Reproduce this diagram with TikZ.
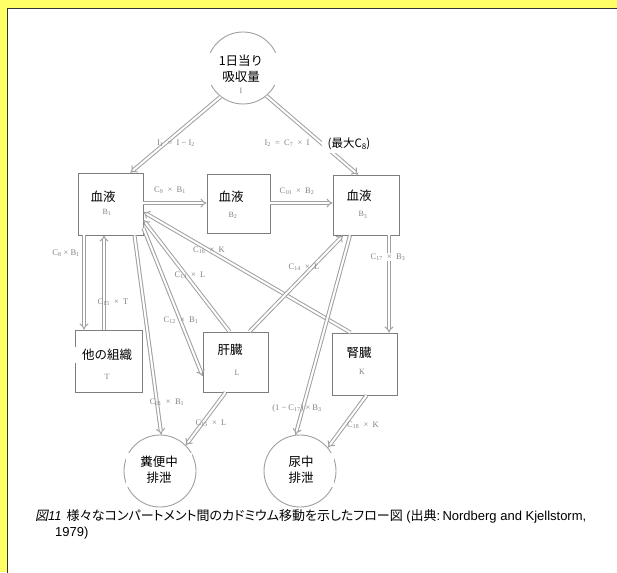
\documentclass[tikz,border=0pt]{standalone}
\usepackage{fontspec}
\setmainfont{Liberation Sans}
\newfontfamily\jpfont{Noto Sans CJK JP}
\newfontfamily\jpcap[RawFeature=+palt]{Noto Sans CJK JP}
\newfontfamily\jpslant[FakeSlant=0.2,RawFeature=+palt]{Noto Sans CJK JP}
\newfontfamily\labfont{Liberation Serif}
\usetikzlibrary{arrows.meta}
\definecolor{bgyellow}{RGB}{255,255,102}
\definecolor{linegray}{RGB}{160,160,160}
\definecolor{boxgray}{RGB}{125,125,125}
\definecolor{labgray}{RGB}{130,130,130}
\begin{document}
\begin{tikzpicture}[x=1pt,y=-1pt,
  box/.style={draw=boxgray, line width=0.8pt, inner sep=0pt},
  circ/.style={draw=linegray, line width=0.9pt, circle, minimum size=72pt, inner sep=0pt},
  jp/.style={font=\jpfont\fontsize{12.5}{16}\selectfont, align=center, inner sep=1pt},
  jpbg/.style={jp, fill=white},
  sym/.style={text=labgray, font=\labfont\fontsize{8}{9}\selectfont, inner sep=1pt},
  lab/.style={text=labgray, font=\labfont\fontsize{8.5}{10}\selectfont, inner sep=1pt},
  flow/.style={draw=linegray, line width=1pt, double=white, double distance=2pt, -{Implies}},
]
\useasboundingbox (0,0) rectangle (617,572);
\fill[bgyellow] (0,0) rectangle (617,572);
\fill[white] (7,8) rectangle (640,600);
\draw[black!80, line width=1.2pt] (7.6,600) -- (7.6,8.6) -- (640,8.6);

% boxes
\node[box, minimum width=65pt, minimum height=62pt] (b1) at (110.5,204) {};
\node[box, minimum width=63pt, minimum height=59pt] (b2) at (238.5,203.5) {};
\node[box, minimum width=66pt, minimum height=60pt] (b3) at (366,205) {};
\node[box, minimum width=67pt, minimum height=62pt] (t) at (108.5,361) {};
\node[box, minimum width=65pt, minimum height=60pt] (l) at (235.5,362) {};
\node[box, minimum width=65pt, minimum height=62pt] (k) at (364.5,364) {};
% circles
\node[circ] (in) at (243,68) {};
\node[circ] (fe) at (160,471) {};
\node[circ] (ur) at (300,471) {};

% connectors
\draw[flow] (in.232) -- ([xshift=20pt]b1.north);
\draw[flow] (in.-50) -- ([xshift=-8pt]b3.north);
\draw[flow] ([yshift=1pt]b1.east) -- ([yshift=1pt]b1.east -| b2.west);
\draw[flow] ([yshift=0.5pt]b2.east) -- ([yshift=0.5pt]b2.east -| b3.west);
\draw[flow] ([xshift=-14pt]k.north) -- ([yshift=-8pt]b1.east);
\draw[flow] ([xshift=-6pt]l.north) -- ([yshift=-16pt]b1.east);
\draw[flow] ([yshift=-24pt]b1.east) -- ([yshift=-14pt]l.west);
\draw[flow] ([xshift=24pt]b1.south) -- (fe.88);
\draw[flow] ([xshift=-10pt]l.south) -- (fe.45);
\draw[flow] ([xshift=14pt]l.north) -- ([xshift=-23pt]b3.south);
\draw[flow] ([xshift=-16pt]b3.south) -- (ur.97);
\draw[flow] ([xshift=23pt]b3.south) -- ([xshift=23pt]b3.south |- k.north);
\draw[flow] ([xshift=2pt]k.south) -- (ur.40);
\draw[flow] ([xshift=-26.5pt]b1.south) -- ([xshift=-26.5pt]b1.south |- t.north);
\draw[flow] ([xshift=-6.5pt]b1.south |- t.north) -- ([xshift=-6.5pt]b1.south);

% texts in nodes
\node[jpbg, inner xsep=17pt, inner ysep=2pt] (inT) at (241,69) {1日当り\\吸収量};
\node[sym] (inI) at (241,91) {I};
\node[jp] (b1t) at (103,197) {血液};
\node[sym] (b1s) at (107,212) {B\textsubscript{1}};
\node[jp] (b2t) at (231,197) {血液};
\node[sym] (b2s) at (233,215) {B\textsubscript{2}};
\node[jp] (b3t) at (359,196) {血液};
\node[sym] (b3s) at (363,215) {B\textsubscript{3}};
\node[jpbg, inner xsep=10pt, inner ysep=2pt] (tt) at (107,355) {他の組織};
\node[sym] (ts) at (107,377) {T};
\node[jp] (lt) at (230,350) {肝臓};
\node[sym] (ls) at (237,373) {L};
\node[jp] (kt) at (359,353) {腎臓};
\node[sym] (ks) at (362,372) {K};
\node[jpbg, inner xsep=14pt, inner ysep=3pt] (fet) at (159,470) {糞便中\\排泄};
\node[jpbg, inner xsep=20pt, inner ysep=3pt] (urt) at (301,470) {尿中\\排泄};

% labels
\node[lab] (lI1) at (176,143) {I\textsubscript{1}\enspace =\enspace I − I\textsubscript{2}};
\node[lab] (lI2) at (287,143) {I\textsubscript{2}\enspace =\enspace C\textsubscript{7}\enspace ×\enspace I};
\node[jpbg, inner xsep=6pt, inner ysep=3pt, font=\jpfont\fontsize{11.5}{14}\selectfont] (lmax) at (349,144) {(最大C\raisebox{-2pt}{\fontsize{8}{8}\selectfont 8})};
\node[lab] (l9) at (170,190) {C\textsubscript{9}\enspace ×\enspace B\textsubscript{1}};
\node[lab] (l10) at (297,191) {C\textsubscript{10}\enspace ×\enspace B\textsubscript{2}};
\node[lab] (l16) at (209,250) {C\textsubscript{16}\enspace ×\enspace K};
\node[lab] (l13) at (190,275) {C\textsubscript{13}\enspace ×\enspace L};
\node[lab] (l14) at (304,267) {C\textsubscript{14}\enspace ×\enspace L};
\node[lab, fill=white] (l17) at (388,257) {C\textsubscript{17}\enspace ×\enspace B\textsubscript{3}};
\node[lab] (l8) at (66,253) {C\textsubscript{8} × B\textsubscript{1}};
\node[lab] (l15t) at (113,302) {C\textsubscript{15}\enspace ×\enspace T};
\node[lab] (l12) at (181,320) {C\textsubscript{12}\enspace ×\enspace B\textsubscript{1}};
\node[lab] (l11) at (167,402) {C\textsubscript{11}\enspace ×\enspace B\textsubscript{1}};
\node[lab] (l15l) at (211,423) {C\textsubscript{15}\enspace ×\enspace L};
\node[lab] (l117) at (297,408) {(1 − C\textsubscript{17}) × B\textsubscript{3}};
\node[lab] (l18) at (363,425) {C\textsubscript{18}\enspace ×\enspace K};

% caption
\node[anchor=west, inner sep=0pt, font=\fontsize{13}{15}\selectfont] (cap1) at (35,516)
  {{\jpslant 図}\textit{11}\hspace{5pt}{\jpcap 様々なコンパートメント間のカドミウム移動を示したフロー図} ({\jpcap 出典}:\,Nordberg and Kjellstorm,};
\node[anchor=west, inner sep=0pt, font=\fontsize{13}{15}\selectfont] (cap2) at (55,533) {1979)};
\end{tikzpicture}
\end{document}
